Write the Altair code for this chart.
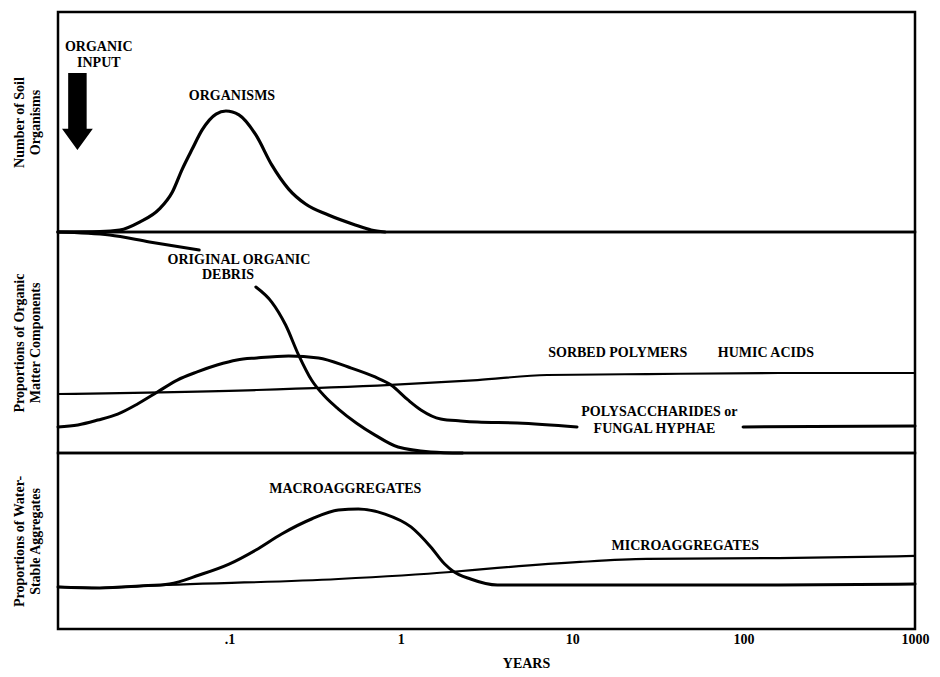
import altair as alt
import pandas as pd

FONT = "Liberation Serif"

# ---------------- shared x axis (years, log) ----------------
X_DOMAIN = [0.01, 1000]
TICK_VALUES = [0.1, 1, 10, 100, 1000]
TICK_LABELS = [".1", "1", "10", "100", "1000"]
X_TITLE = "YEARS"

# ---------------- panel titles ----------------
TOP_TITLE = ["Number of Soil", "Organisms"]
MID_TITLE = ["Proportions of Organic", "Matter Components"]
BOT_TITLE = ["Proportions of Water-", "Stable Aggregates"]

# ---------------- top panel: organisms ----------------
organisms_years = [0.01, 0.01754, 0.02291, 0.02992, 0.03908, 0.04648, 0.05309, 0.06067, 0.06934,
                   0.08357, 0.09549, 0.1137, 0.1427, 0.1766, 0.2217, 0.2782, 0.3782, 0.5424,
                   0.6714, 0.8087]
organisms_values = [0.0, 0.002, 0.009, 0.045, 0.105, 0.182, 0.286, 0.377, 0.464,
                    0.536, 0.550, 0.532, 0.441, 0.305, 0.195, 0.127, 0.077, 0.032,
                    0.009, 0.0]

# ---------------- middle panel ----------------
debris_a_years = [0.01, 0.02004, 0.03420, 0.06668]
debris_a_values = [1.0, 0.986, 0.955, 0.919]
debris_b_years = [0.1427, 0.1766, 0.2129, 0.2535, 0.3015, 0.3631, 0.4325, 0.5497, 0.7079,
                  0.9634, 1.496, 2.296]
debris_b_values = [0.751, 0.683, 0.579, 0.443, 0.330, 0.253, 0.199, 0.136, 0.081,
                   0.027, 0.005, 0.0]

poly_a_years = [0.01, 0.01306, 0.01706, 0.02229, 0.02911, 0.03802, 0.04966, 0.06486, 0.08472,
                0.1107, 0.1445, 0.2217, 0.3311, 0.4940, 0.7079, 0.8769, 1.102, 1.310, 1.710,
                2.234, 2.803, 4.786, 10.67]
poly_a_values = [0.118, 0.127, 0.149, 0.176, 0.222, 0.276, 0.330, 0.367, 0.398,
                 0.421, 0.430, 0.439, 0.430, 0.389, 0.344, 0.308, 0.240, 0.195, 0.154,
                 0.145, 0.140, 0.136, 0.118]
poly_b_years = [99.3, 1000]
poly_b_values = [0.118, 0.122]

sorbed_years = [0.01, 0.1445, 0.8769, 2.803, 7.145, 27.18, 160.4, 1000]
sorbed_values = [0.267, 0.285, 0.308, 0.330, 0.353, 0.357, 0.362, 0.362]

# ---------------- bottom panel ----------------
micro_years = [0.01, 0.01754, 0.02992, 0.4325, 1.954, 3.664, 11.10, 27.18, 160.4, 1000]
micro_values = [0.239, 0.233, 0.244, 0.284, 0.324, 0.347, 0.381, 0.398, 0.403, 0.415]

macro_years = [0.01, 0.01754, 0.02992, 0.04467, 0.06668, 0.09954, 0.1427, 0.2018, 0.3015,
               0.4325, 0.5649, 0.8087, 1.146, 1.496, 1.803, 2.009, 2.553, 3.664, 7.145,
               27.18, 160.4, 1000]
macro_values = [0.239, 0.233, 0.244, 0.256, 0.307, 0.369, 0.449, 0.540, 0.625,
                0.676, 0.682, 0.653, 0.580, 0.466, 0.369, 0.330, 0.284, 0.250, 0.250,
                0.250, 0.250, 0.256]

# ---------------- annotations ----------------
top_labels = ["ORGANIC\nINPUT", "ORGANISMS"]
top_label_years = [0.01730, 0.1035]
top_label_values = [0.841, 0.618]

arrow_years = [0.01298]
arrow_values = [0.548]

mid_labels = ["ORIGINAL ORGANIC", "DEBRIS", "SORBED POLYMERS", "HUMIC ACIDS",
              "POLYSACCHARIDES or", "FUNGAL HYPHAE"]
mid_label_years = [0.1137, 0.0982, 18.45, 134.9, 32.28, 30.2]
mid_label_values = [0.873, 0.805, 0.452, 0.452, 0.186, 0.109]

bot_labels = ["MACROAGGREGATES", "MICROAGGREGATES"]
bot_label_years = [0.4742, 45.7]
bot_label_values = [0.795, 0.472]

# ---------------- helpers ----------------
PLOT_W = 857
xscale = alt.Scale(type="log", domain=X_DOMAIN, nice=False)
yscale = alt.Scale(domain=[0, 1], nice=False, zero=False)

label_expr = " : ".join(
    f"datum.value == {v} ? '{l}'" for v, l in zip(TICK_VALUES, TICK_LABELS)
) + " : ''"

x_axis_bottom = alt.Axis(
    values=TICK_VALUES, labelExpr=label_expr, ticks=False, domain=False, grid=False,
    labelFlush=False, labelPadding=3, title=X_TITLE, titleX=468, titleY=34,
    titleAlign="center", titleBaseline="middle",
)


def y_axis(title):
    return alt.Axis(title=title, labels=False, ticks=False, domain=False, grid=False,
                    titlePadding=16, titleLineHeight=16)


def line(years, values, width, xaxis, yaxis):
    df = pd.DataFrame({"year": years, "value": values})
    return alt.Chart(df).mark_line(
        color="black", strokeWidth=width, interpolate="monotone", strokeCap="round"
    ).encode(
        x=alt.X("year:Q", scale=xscale, axis=xaxis),
        y=alt.Y("value:Q", scale=yscale, axis=yaxis),
    )


def texts(labels, years, values, xaxis, yaxis):
    df = pd.DataFrame({"year": years, "value": values, "label": labels})
    return alt.Chart(df).mark_text(
        font=FONT, fontSize=14, fontWeight="bold", color="black",
        align="center", baseline="middle", lineBreak="\n", lineHeight=16,
    ).encode(
        x=alt.X("year:Q", scale=xscale, axis=xaxis),
        y=alt.Y("value:Q", scale=yscale, axis=yaxis),
        text="label:N",
    )


ARROW_PATH = "M-0.24,-1L0.24,-1L0.24,0.45L0.40,0.45L0,1L-0.40,0.45L-0.24,0.45Z"

# ---------------- panels ----------------
ya = y_axis(TOP_TITLE)
arrow = alt.Chart(pd.DataFrame({"year": arrow_years, "value": arrow_values})).mark_point(
    shape=ARROW_PATH, size=5929, filled=True, color="black", opacity=1, strokeWidth=0
).encode(
    x=alt.X("year:Q", scale=xscale, axis=None),
    y=alt.Y("value:Q", scale=yscale, axis=ya),
)
top = alt.layer(
    line(organisms_years, organisms_values, 3.2, None, ya),
    arrow,
    texts(top_labels, top_label_years, top_label_values, None, ya),
).properties(width=PLOT_W, height=220)

ym = y_axis(MID_TITLE)
mid = alt.layer(
    line(debris_a_years, debris_a_values, 3.0, None, ym),
    line(debris_b_years, debris_b_values, 3.0, None, ym),
    line(poly_a_years, poly_a_values, 3.0, None, ym),
    line(poly_b_years, poly_b_values, 3.0, None, ym),
    line(sorbed_years, sorbed_values, 2.2, None, ym),
    texts(mid_labels, mid_label_years, mid_label_values, None, ym),
).properties(width=PLOT_W, height=221)

yb = y_axis(BOT_TITLE)
bot = alt.layer(
    line(micro_years, micro_values, 2.2, x_axis_bottom, yb),
    line(macro_years, macro_values, 3.0, x_axis_bottom, yb),
    texts(bot_labels, bot_label_years, bot_label_values, x_axis_bottom, yb),
).properties(width=PLOT_W, height=176)

chart = alt.vconcat(top, mid, bot, spacing=0, bounds="flush").properties(
    padding={"left": 2, "top": 2, "right": 0, "bottom": 0},
    background="white",
).configure_view(
    stroke="black", strokeWidth=2.5
).configure_axis(
    labelFont=FONT, labelFontSize=14, labelFontWeight="bold", labelColor="black",
    titleFont=FONT, titleFontSize=14, titleFontWeight="bold", titleColor="black",
)

chart.save("out.html", embed_options={"renderer": "svg", "actions": False})
